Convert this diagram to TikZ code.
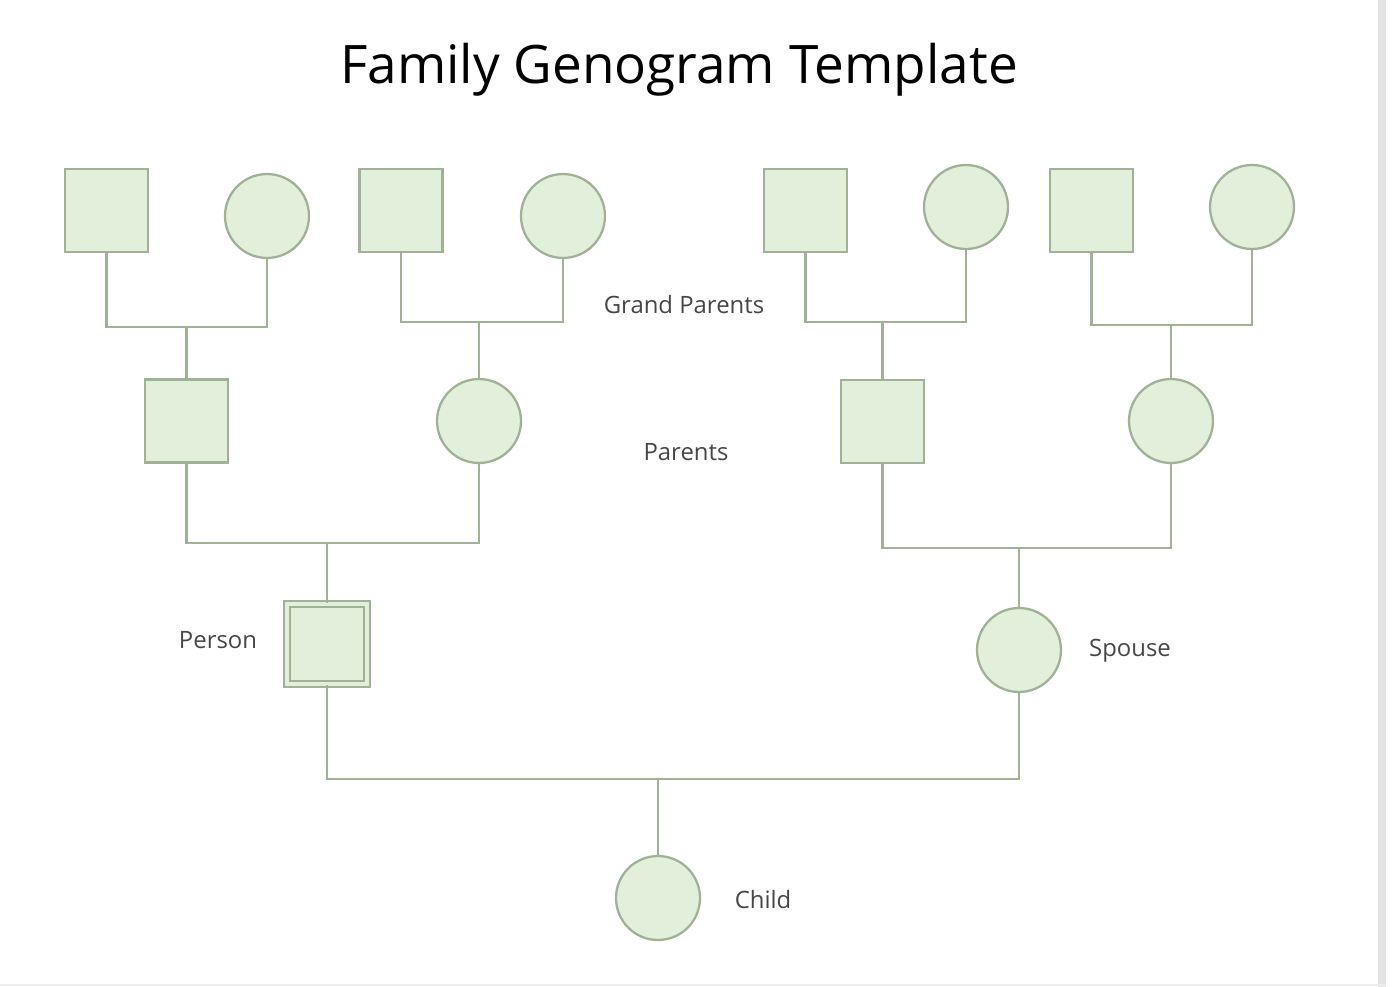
\documentclass[tikz,border=0pt]{standalone}
\usepackage{fontspec}
\setmainfont{Open Sans}
\definecolor{genofill}{RGB}{226,239,218}
\definecolor{genoline}{RGB}{160,178,150}
\definecolor{labelgray}{RGB}{70,70,70}
\tikzset{
  male/.style={draw=genoline,fill=genofill,line width=1.3pt,minimum size=1.66cm,inner sep=0pt},
  female/.style={circle,draw=genoline,fill=genofill,line width=1.3pt,minimum size=1.68cm,inner sep=0pt},
  self/.style={male,double=genofill,double distance=2.6pt,line width=1.1pt,minimum size=1.6cm},
  tie/.style={draw=genoline,line width=1.4pt},
  tag/.style={text=labelgray,font=\fontsize{13.6}{15}\selectfont}
}
\begin{document}
\begin{tikzpicture}[x=0.02cm,y=-0.02cm]
  \useasboundingbox (0,0) rectangle (1393,987);
  \fill[gray!22] (1378,0) rectangle (1386,987);
  \draw[gray!15,line width=1pt] (0,985) -- (1386,985);
  \node[font=\fontsize{30.2}{35}\selectfont] (title) at (679,70) {Family Genogram Template};
  % grand parents
  \path node[male] (gfa) at (106.5,210.5) {} node[female] (gma) at (267,216) {}
        node[male] (gfb) at (401,210.5) {} node[female] (gmb) at (563,216) {}
        node[male] (gfc) at (805.5,210.5) {} node[female] (gmc) at (966,207) {}
        node[male] (gfd) at (1091.5,210.5) {} node[female] (gmd) at (1252,207) {};
  % parents
  \path node[male] (fa) at (186.5,421) {} node[female] (ma) at (479,421) {}
        node[male] (fb) at (882.5,421.5) {} node[female] (mb) at (1171,421) {};
  \node[self] (me) at (327,644) {};
  \node[female] (sp) at (1019,650) {};
  \node[female] (ch) at (658,898) {};
  \coordinate (ja) at (186.5,327); \coordinate (jb) at (479,322);
  \coordinate (jc) at (882.5,322); \coordinate (jd) at (1171,325);
  \coordinate (je) at (327,543); \coordinate (jf) at (1019,548);
  \coordinate (jg) at (658,779);
  \draw[tie] (gfa.south) |- (ja) -| (gma.south) (ja) -- (fa.north);
  \draw[tie] (gfb.south) |- (jb) -| (gmb.south) (jb) -- (ma.north);
  \draw[tie] (gfc.south) |- (jc) -| (gmc.south) (jc) -- (fb.north);
  \draw[tie] (gfd.south) |- (jd) -| (gmd.south) (jd) -- (mb.north);
  \draw[tie] (fa.south) |- (je) -| (ma.south) (je) -- (me.north);
  \draw[tie] (fb.south) |- (jf) -| (mb.south) (jf) -- (sp.north);
  \draw[tie] (me.south) |- (jg) -| (sp.south) (jg) -- (ch.north);
  % labels
  \node[tag] (lgp) at (684,305) {Grand Parents};
  \node[tag] (lp) at (686,452) {Parents};
  \node[tag] (lme) at (218,640) {Person};
  \node[tag] (lsp) at (1130,651) {Spouse};
  \node[tag] (lch) at (763,900) {Child};
\end{tikzpicture}
\end{document}
